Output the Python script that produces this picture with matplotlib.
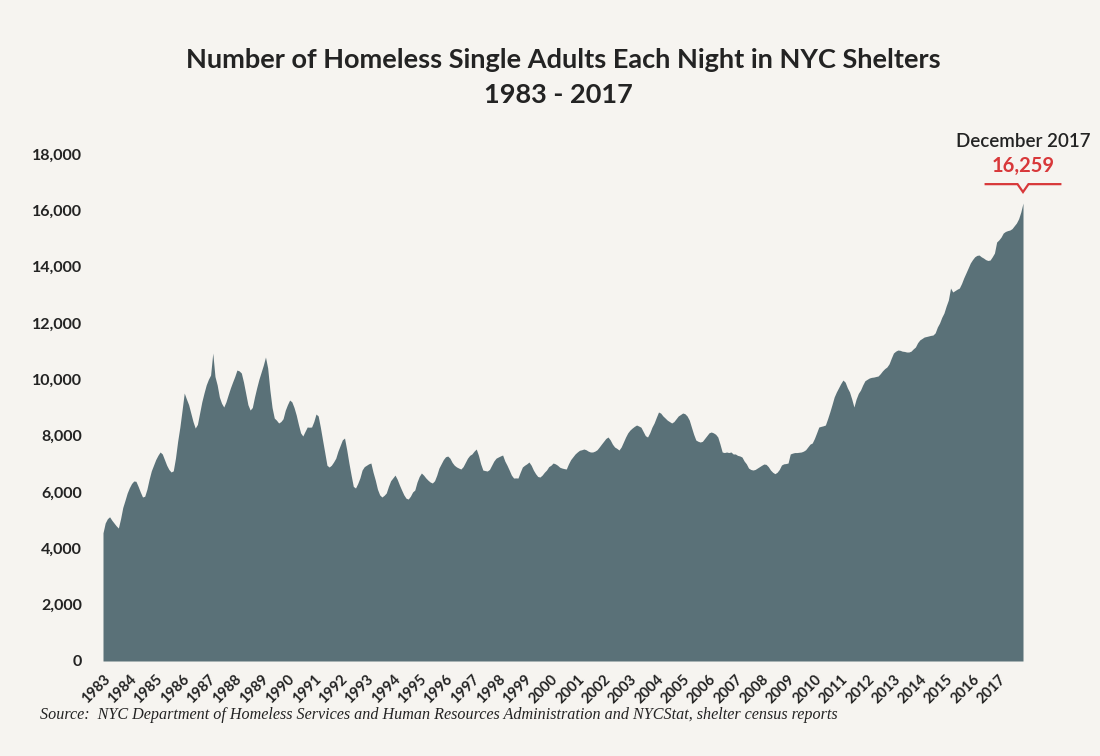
import numpy as np
import matplotlib.pyplot as plt

# single adults in NYC shelters, one value per month (Jan..Dec), 1983 - 2017
census = [
    4550, 4900, 5050, 5120, 5000, 4900, 4800, 4720, 5050, 5450, 5700, 5960,   # 1983
    6150, 6300, 6390, 6380, 6200, 6000, 5822, 5850, 6100, 6450, 6750, 6950,   # 1984
    7150, 7300, 7420, 7350, 7150, 6950, 6800, 6710, 6750, 7200, 7800, 8300,   # 1985
    8900, 9514, 9300, 9100, 8800, 8500, 8270, 8400, 8800, 9200, 9514, 9800,   # 1986
    10000, 10153, 10934, 10100, 9800, 9372, 9150, 9017, 9200, 9450, 9690, 9900,  # 1987
    10100, 10330, 10300, 10224, 9900, 9500, 9100, 8910, 9000, 9372, 9700, 10000,  # 1988
    10250, 10500, 10792, 10400, 9620, 9000, 8626, 8550, 8450, 8500, 8600, 8900,   # 1989
    9100, 9265, 9200, 9000, 8733, 8400, 8100, 7988, 8150, 8307, 8300, 8307,   # 1990
    8500, 8768, 8700, 8300, 7845, 7400, 6950, 6887, 6950, 7064, 7200, 7450,   # 1991
    7650, 7850, 7916, 7500, 7029, 6600, 6200, 6141, 6300, 6500, 6780, 6900,   # 1992
    6950, 7000, 7029, 6700, 6425, 6100, 5900, 5822, 5880, 5964, 6200, 6400,   # 1993
    6500, 6600, 6450, 6250, 6070, 5900, 5780, 5750, 5850, 6000, 6070, 6350,   # 1994
    6550, 6674, 6600, 6500, 6420, 6354, 6320, 6400, 6600, 6850, 7000, 7150,   # 1995
    7250, 7277, 7200, 7050, 6950, 6890, 6850, 6816, 6900, 7050, 7200, 7300,   # 1996
    7350, 7450, 7526, 7300, 7000, 6780, 6760, 6745, 6800, 6950, 7100, 7200,   # 1997
    7242, 7280, 7313, 7100, 6950, 6780, 6600, 6496, 6500, 6496, 6700, 6887,   # 1998
    6950, 7000, 7064, 6950, 6780, 6650, 6550, 6532, 6600, 6700, 6780, 6900,   # 1999
    6950, 7029, 7000, 6950, 6880, 6850, 6830, 6816, 7000, 7150, 7250, 7350,   # 2000
    7420, 7480, 7500, 7526, 7500, 7450, 7420, 7420, 7450, 7500, 7597, 7700,   # 2001
    7800, 7900, 7952, 7850, 7700, 7597, 7550, 7490, 7600, 7774, 7950, 8100,   # 2002
    8200, 8270, 8330, 8378, 8342, 8300, 8150, 8000, 7952, 8100, 8300, 8450,   # 2003
    8650, 8840, 8800, 8700, 8627, 8550, 8500, 8450, 8500, 8600, 8700, 8750,   # 2004
    8804, 8780, 8700, 8555, 8300, 8050, 7845, 7800, 7774, 7800, 7900, 8000,   # 2005
    8100, 8130, 8100, 8050, 7952, 7700, 7420, 7400, 7420, 7400, 7420, 7350,   # 2006
    7350, 7300, 7280, 7242, 7100, 7000, 6850, 6800, 6780, 6800, 6850, 6900,   # 2007
    6950, 6994, 6980, 6900, 6780, 6700, 6650, 6700, 6800, 6958, 7000, 7010,   # 2008
    7029, 7350, 7380, 7400, 7400, 7410, 7420, 7450, 7500, 7600, 7700, 7739,   # 2009
    7900, 8100, 8307, 8330, 8350, 8378, 8600, 8840, 9100, 9372, 9550, 9700,   # 2010
    9850, 9975, 9900, 9700, 9550, 9300, 9017, 9300, 9500, 9620, 9800, 9950,   # 2011
    10000, 10047, 10070, 10080, 10100, 10118, 10200, 10300, 10380, 10437, 10550, 10750,  # 2012
    10934, 11000, 11040, 11030, 11000, 10990, 10970, 10970, 11000, 11080, 11147, 11300,  # 2013
    11400, 11450, 11502, 11520, 11540, 11560, 11573, 11650, 11857, 12000, 12200, 12354,  # 2014
    12600, 12815, 13240, 13100, 13150, 13200, 13240, 13400, 13600, 13774, 13950, 14129,  # 2015
    14250, 14350, 14400, 14413, 14350, 14306, 14250, 14220, 14235, 14350, 14484, 14875,  # 2016
    14950, 15050, 15194, 15250, 15280, 15300, 15350, 15450, 15549, 15700, 15940, 16259,  # 2017
]
years = list(range(1983, 2018))
y_ticks = [0, 2000, 4000, 6000, 8000, 10000, 12000, 14000, 16000, 18000]
last_label = 'December 2017'

bg = '#f6f4f0'
fill_col = '#5a7178'
red = '#d8383a'
dark = '#232323'

plt.rcParams['font.family'] = ['Lato', 'DejaVu Sans']

fig = plt.figure(figsize=(11, 7.56), dpi=100, facecolor=bg)
ax = fig.add_axes([103 / 1100, 95 / 756, 920 / 1100, 507 / 756])
ax.set_facecolor(bg)

months = np.arange(len(census))
ax.fill_between(months, census, 0, color=fill_col, linewidth=0)

ax.set_xlim(0, len(census) - 1)
ax.set_ylim(0, 18000)
for s in ax.spines.values():
    s.set_visible(False)

ax.set_yticks(y_ticks)
ax.set_yticklabels([f'{v:,}' for v in y_ticks], fontsize=11.5, fontweight='bold', color=dark)
ax.set_xticks([12 * i for i in range(len(years))])
ax.set_xticklabels([str(y) for y in years], rotation=45, ha='right',
                   rotation_mode='anchor', fontsize=10.5, fontweight='bold', color=dark)
ax.tick_params(axis='both', length=0)
ax.tick_params(axis='y', pad=15)
ax.tick_params(axis='x', pad=8)

# title
fig.text(0.512, 0.921, 'Number of Homeless Single Adults Each Night in NYC Shelters',
         ha='center', va='center', fontsize=19.5, fontweight='bold', color=dark)
fig.text(0.508, 0.874, '1983 - 2017', ha='center', va='center',
         fontsize=19.5, fontweight='bold', color=dark)

# callout for the last month
xe = months[-1]
ve = census[-1]
ax.text(xe, 18450, last_label, ha='center', va='center', fontsize=13.5,
        fontweight='semibold', color=dark, clip_on=False)
ax.text(xe, 17570, f'{ve:,}', ha='center', va='center', fontsize=14.5,
        fontweight='bold', color=red, clip_on=False)
ax.plot([xe - 17, xe - 2.5, xe, xe + 2.5, xe + 17],
        [16930, 16930, 16650, 16930, 16930], color=red, lw=1.6,
        clip_on=False, solid_joinstyle='miter')

fig.text(40 / 1100, 1 - 715 / 756,
         'Source:  NYC Department of Homeless Services and Human Resources '
         'Administration and NYCStat, shelter census reports',
         ha='left', va='center', fontsize=11.6, style='italic',
         family='Liberation Serif', color=dark)

fig.savefig('out.png', dpi=100, facecolor=bg)
